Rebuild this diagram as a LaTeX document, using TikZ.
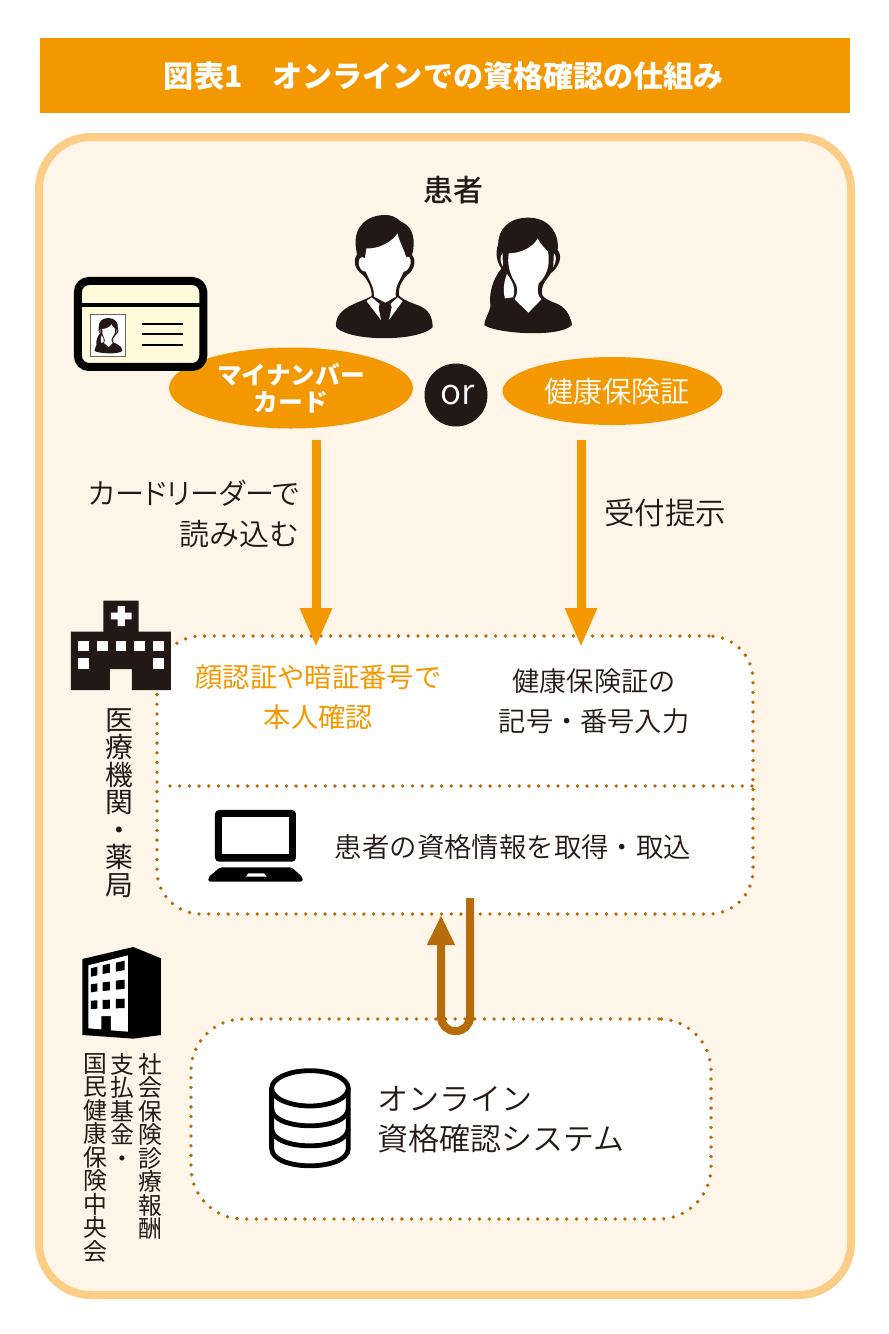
\documentclass[tikz,border=0pt]{standalone}
\usepackage{fontspec}
\usetikzlibrary{arrows.meta,shapes.geometric}
\setmainfont{Noto Sans CJK JP}
\newfontfamily\thinfont{Noto Sans CJK JP DemiLight}
\newfontfamily\medfont{Noto Sans CJK JP Medium}
\newfontfamily\paltfont[RawFeature={+palt}]{Noto Sans CJK JP DemiLight}
\definecolor{mainorange}{HTML}{F39800}
\definecolor{paleorange}{HTML}{FBCD87}
\definecolor{creamback}{HTML}{FFF5E8}
\definecolor{brownline}{HTML}{B66C0B}
\definecolor{darkicon}{HTML}{231815}
\definecolor{cardyellow}{HTML}{FFFBDB}
\tikzset{
  dotline/.style={brownline,line width=3.8pt,line cap=round,dash pattern=on 0pt off 9.7pt},
  dotbox/.style={dotline,fill=white,draw,rounded corners=44pt,inner sep=0pt},
  badge/.style={ellipse,fill=mainorange,inner sep=0pt,text=white},
  bigarrow/.style={mainorange,line width=9pt,-{Triangle[width=30pt,length=39pt]}},
  uarrow/.style={brownline,line width=8pt,rounded corners=14pt,-{Triangle[width=26pt,length=30pt]}},
  label/.style={inner sep=0pt,align=center,text=darkicon},
  vlabel/.style={inner sep=0pt,align=center,anchor=north,text=darkicon},
  womanicon/.pic={
    \fill[darkicon] (1360,143) .. controls (1300,143) and (1272,180) .. (1272,225)
      .. controls (1262,250) and (1270,280) .. (1282,295)
      .. controls (1255,330) and (1245,370) .. (1250,410)
      .. controls (1245,430) and (1232,450) .. (1232,465)
      .. controls (1260,490) and (1450,505) .. (1487,465)
      .. controls (1480,430) and (1465,410) .. (1440,400)
      .. controls (1420,392) and (1405,385) .. (1400,375)
      .. controls (1395,350) and (1405,340) .. (1425,310)
      .. controls (1450,290) and (1460,260) .. (1445,240)
      .. controls (1450,190) and (1420,143) .. (1360,143) -- cycle;
    \fill[white] (1303,250) .. controls (1340,250) and (1375,230) .. (1387,205)
      .. controls (1395,225) and (1410,235) .. (1417,245)
      .. controls (1425,290) and (1410,320) .. (1390,340)
      .. controls (1385,360) and (1385,375) .. (1398,388)
      -- (1360,428) -- (1320,388)
      .. controls (1330,370) and (1330,350) .. (1320,335)
      .. controls (1305,310) and (1298,280) .. (1303,250) -- cycle;
    \fill[white] (1292,385) .. controls (1285,360) and (1290,330) .. (1298,312)
      .. controls (1315,335) and (1325,360) .. (1315,382) -- cycle;
    \fill[white] (1434,250) .. controls (1442,255) and (1442,275) .. (1432,292) -- cycle;
    \fill[white] (1285,250) .. controls (1277,258) and (1277,275) .. (1286,290) -- cycle;
  }
}
\begin{document}
\begin{tikzpicture}[x=1pt,y=-1pt]
\useasboundingbox (0,0) rectangle (889,1334);
% title
\fill[mainorange] (40,38) rectangle (850,113);
\node[inner sep=0pt,text=white,font=\bfseries\fontsize{30.1}{32}\selectfont] (title) at (444,76) {図表1　オンラインでの資格確認の仕組み};
% frame
\node[draw=paleorange,fill=creamback,line width=8pt,rounded corners=52pt,minimum width=812pt,minimum height=1158pt,inner sep=0pt] (frame) at (445,716) {};
\node[label,font=\medfont\fontsize{30}{32}\selectfont] (kanja) at (453,190) {患者};
% patients
\begin{scope}[shift={(60,170)},xscale=0.3444,yscale=0.3333]
  \fill[darkicon] (945,135) .. controls (890,135) and (858,170) .. (858,215)
    .. controls (858,235) and (862,245) .. (862,255)
    .. controls (850,270) and (855,300) .. (880,315)
    .. controls (895,335) and (905,350) .. (905,378)
    .. controls (880,395) and (820,405) .. (805,445)
    .. controls (800,460) and (800,470) .. (805,475)
    .. controls (850,515) and (1040,515) .. (1082,472)
    .. controls (1082,440) and (1070,420) .. (1045,408)
    .. controls (1020,398) and (1000,392) .. (985,378)
    .. controls (980,350) and (995,330) .. (1008,315)
    .. controls (1030,300) and (1035,270) .. (1022,255)
    .. controls (1032,220) and (1030,170) .. (990,155)
    .. controls (975,140) and (960,135) .. (945,135) -- cycle;
  \fill[white] (890,235) .. controls (925,238) and (965,215) .. (980,190)
    .. controls (985,215) and (1000,240) .. (1005,262)
    .. controls (1012,255) and (1020,265) .. (1018,280)
    .. controls (1015,295) and (1005,305) .. (998,305)
    .. controls (985,335) and (972,350) .. (975,380)
    -- (945,398) -- (912,380)
    .. controls (912,350) and (900,335) .. (888,305)
    .. controls (875,305) and (865,290) .. (868,272)
    .. controls (870,262) and (878,258) .. (885,265) -- cycle;
  \fill[white] (890,393) -- (905,382) -- (928,402) -- (925,412) -- (932,450) -- cycle;
  \fill[white] (995,393) -- (980,382) -- (960,402) -- (963,412) -- (955,450) -- cycle;
\end{scope}
\pic[shift={(60,170)},xscale=0.3444,yscale=0.3333] {womanicon};
% upper and lower blocks
\node[dotbox,minimum width=596pt,minimum height=278pt] (iryobox) at (455,775) {};
\draw[dotline] (170,786) -- (752,786);
\node[dotbox,minimum width=520pt,minimum height=200pt,rounded corners=52pt] (sysbox) at (451,1119) {};
% badges
\node[badge,minimum width=244pt,minimum height=81pt,font=\bfseries\fontsize{24.7}{27}\selectfont,align=center] (myna) at (291,388) {マイナンバー\\カード};
\node[badge,minimum width=220pt,minimum height=68pt,font=\thinfont\fontsize{29.2}{32}\selectfont] (kenpo) at (612.5,391) {\hspace*{9pt}\raisebox{2pt}{健康保険証}};
\node[circle,fill=darkicon,text=white,minimum size=63pt,inner sep=0pt,font=\thinfont\fontsize{35}{38}\selectfont] (ortag) at (456,395) {\hspace*{3pt}or};
% id card
\begin{scope}[shift={(60,170)},xscale=0.3444,yscale=0.3333]
  \draw[black,fill=cardyellow,line width=8pt,rounded corners=11pt] (52,333) rectangle (416,591);
  \draw[black,line width=4pt] (52,405) -- (416,405);
  \draw[fill=white,draw=black!60,line width=0.7pt] (88,432) rectangle (190,560);
  \draw[black,line width=1.8pt] (237,463) -- (358,463) (237,493) -- (358,493) (237,524) -- (358,524);
\end{scope}
\pic[shift={(-41.1,303.4)},xscale=0.11,yscale=0.102] {womanicon};
% arrows
\coordinate (mynafrom) at (316,440);
\coordinate (mynato) at (316,647);
\coordinate (kenpofrom) at (581,440);
\coordinate (kenpoto) at (581,647);
\draw[bigarrow] (mynafrom) -- (mynato);
\draw[bigarrow] (kenpofrom) -- (kenpoto);
\node[label,anchor=east,align=right,font=\fontsize{30}{41}\selectfont\thinfont] (reader) at (299.5,514) {{\paltfont\fontsize{29}{41}\selectfont カードリーダーで}\\読み込む};
\node[label,font=\thinfont\fontsize{30.5}{32}\selectfont] (uketsuke) at (665,513) {受付提示};
% hospital
\begin{scope}[shift={(60,590)},scale=0.3333]
  \fill[darkicon] (33,125) -- (130,125) -- (130,32) -- (236,32) -- (236,125) -- (333,125) -- (333,300) -- (216,300) -- (216,237) -- (150,237) -- (150,300) -- (33,300) -- cycle;
  \fill[white] (173,48) -- (195,48) -- (195,68) -- (215,68) -- (215,88) -- (195,88) -- (195,108) -- (173,108) -- (173,88) -- (153,88) -- (153,68) -- (173,68) -- cycle;
  \foreach \wx in {55,111,167,223,280}
    \fill[white] (\wx,152) rectangle (\wx+32,183);
  \foreach \wx in {55,280}
    \fill[white] (\wx,205) rectangle (\wx+32,237);
\end{scope}
\node[vlabel,font=\fontsize{27.8}{27.5}\selectfont] (iryo) at (119,708) {医\\療\\機\\関\\・\\薬\\局};
% block texts
\node[label,text=mainorange,font=\fontsize{27.3}{40}\selectfont] (ninsho) at (318.5,697) {顔認証や暗証番号で\\本人確認};
\node[label,font=\thinfont\fontsize{27.2}{40}\selectfont] (kigo) at (594,701) {健康保険証の\\記号・番号入力};
\node[label,font=\thinfont\fontsize{27.4}{30}\selectfont] (shutoku) at (513,847) {患者の資格情報を取得・取込};
% laptop
\begin{scope}[shift={(60,590)},scale=0.3333]
  \fill[black,rounded corners=4pt] (465,660) rectangle (708,815);
  \fill[white] (487,680) rectangle (688,793);
  \fill[black,rounded corners=2pt] (480,832) -- (695,832) -- (728,862) -- (728,875) -- (445,875) -- (445,862) -- cycle;
  \fill[white] (565,850) -- (612,850) -- (620,860) -- (558,860) -- cycle;
\end{scope}
% u-turn arrow
\coordinate (ufrom) at (470,898);
\coordinate (ubottom) at (470,1031);
\coordinate (ubottomleft) at (441,1031);
\coordinate (uto) at (441,915);
\draw[uarrow] (ufrom) -- (ubottom) -- (ubottomleft) -- (uto);
% building
\begin{scope}[shift={(60,890)},scale=0.3333]
  \fill[black] (67,207) -- (220,171) -- (303,205) -- (303,435) -- (220,446) -- (67,435) -- cycle;
  \fill[white] (85,226) -- (204,196) -- (204,425) -- (153,421) -- (153,378) -- (124,378) -- (124,418) -- (85,415) -- cycle;
  \fill[black] (93,235) -- (112,230) -- (112,256) -- (93,260) -- cycle;
  \fill[black] (128,226) -- (150,221) -- (150,248) -- (128,252) -- cycle;
  \fill[black] (168,218) -- (194,212) -- (194,240) -- (168,245) -- cycle;
  \fill[black] (93,283) -- (112,280) -- (112,304) -- (93,307) -- cycle;
  \fill[black] (128,277) -- (150,275) -- (150,301) -- (128,303) -- cycle;
  \fill[black] (168,272) -- (194,269) -- (194,296) -- (168,299) -- cycle;
  \fill[black] (93,332) -- (112,331) -- (112,356) -- (93,357) -- cycle;
  \fill[black] (128,330) -- (150,329) -- (150,356) -- (128,357) -- cycle;
  \fill[black] (168,327) -- (194,326) -- (194,354) -- (168,355) -- cycle;
\end{scope}
\node[vlabel,font=\fontsize{23.8}{23.5}\selectfont] (shaho) at (150,1053) {社\\会\\保\\険\\診\\療\\報\\酬};
\node[vlabel,font=\fontsize{23.8}{23.5}\selectfont] (shiharai) at (122,1053) {支\\払\\基\\金\\・};
\node[vlabel,font=\fontsize{23.8}{23.5}\selectfont] (kokuho) at (95,1053) {国\\民\\健\\康\\保\\険\\中\\央\\会};
% database
\begin{scope}[shift={(60,890)},scale=0.3333]
  \draw[black,line width=4.8pt] (750,595) circle[x radius=115,y radius=53];
  \draw[black,line width=4.8pt] (635,595) -- (635,775) .. controls (635,845) and (865,845) .. (865,775) -- (865,595);
  \draw[black,line width=4.8pt] (635,655) .. controls (635,725) and (865,725) .. (865,655);
  \draw[black,line width=4.8pt] (635,715) .. controls (635,785) and (865,785) .. (865,715);
\end{scope}
\node[label,anchor=west,align=left,font=\thinfont\fontsize{31}{40}\selectfont] (onshi) at (377,1120) {オンライン\\資格確認システム};
\end{tikzpicture}
\end{document}
